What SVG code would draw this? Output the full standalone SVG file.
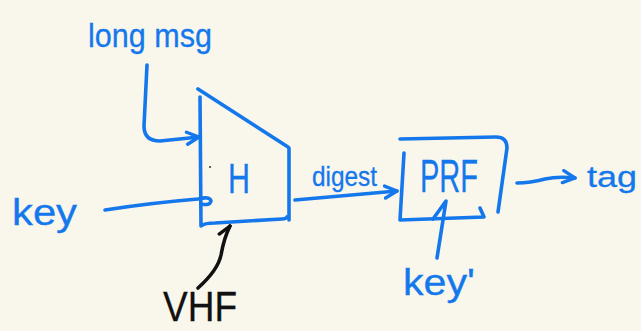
<svg xmlns="http://www.w3.org/2000/svg" width="641" height="331" viewBox="0 0 641 331">
  <style>
    .ink { fill: none; stroke: #1478EC; stroke-width: 3.6; stroke-linecap: round; stroke-linejoin: round; }
    .ink-dark { fill: none; stroke: #111111; stroke-width: 3.6; stroke-linecap: round; stroke-linejoin: round; }
    .lbl { font-family: "Liberation Sans", "DejaVu Sans", sans-serif; fill: #1478EC; stroke: #1478EC; stroke-width: 0.3; }
    .lbl-dark { font-family: "Liberation Sans", "DejaVu Sans", sans-serif; fill: #111111; stroke: #111111; stroke-width: 0.3; }
  </style>
  <defs>
    <marker id="head" viewBox="-14 -8 16 16" markerWidth="16" markerHeight="16" refX="0" refY="0" orient="auto" markerUnits="userSpaceOnUse">
      <path d="M-12,-6 L0,0 L-12,6" fill="none" stroke="#1478EC" stroke-width="3.4" stroke-linecap="round" stroke-linejoin="round"/>
    </marker>
    <marker id="head-dark" viewBox="-14 -8 16 16" markerWidth="16" markerHeight="16" refX="0" refY="0" orient="auto" markerUnits="userSpaceOnUse">
      <path d="M-12,-6 L0,0" fill="none" stroke="#111111" stroke-width="3.4" stroke-linecap="round"/>
    </marker>
  </defs>

  <rect width="641" height="331" fill="#F9F6EC"/>

  <!-- hash block: trapezoid -->
  <g id="hash">
    <path class="ink" d="M198,89 L288,147"/>
    <path class="ink" d="M200,97 L201,226 Q204,223 215,223 L282,219 Q286,219 287,217"/>
    <path class="ink" d="M289,148 L289,220"/>
    <circle cx="210" cy="167" r="1" fill="#333333"/>
    <text class="lbl" x="228" y="193" font-size="42" textLength="22" lengthAdjust="spacingAndGlyphs">H</text>
  </g>

  <!-- PRF block -->
  <g id="prf">
    <path class="ink" d="M400,139 L496,137 Q507,137 507,148 L498,212"/>
    <path class="ink" d="M404,153 L400,220 L484,217 L480,208"/>
    <text class="lbl" x="420" y="192" font-size="46" textLength="58" lengthAdjust="spacingAndGlyphs">PRF</text>
  </g>

  <g id="long-msg">
    <text class="lbl" x="88" y="47" font-size="34" textLength="124" lengthAdjust="spacingAndGlyphs">long msg</text>
  </g>
  <g id="key">
    <text class="lbl" x="12" y="225" font-size="36" textLength="65" lengthAdjust="spacingAndGlyphs">key</text>
  </g>
  <g id="key-prime">
    <text class="lbl" x="403" y="295" font-size="36" textLength="72" lengthAdjust="spacingAndGlyphs">key'</text>
  </g>
  <g id="tag">
    <text class="lbl" x="587" y="187" font-size="30" textLength="50" lengthAdjust="spacingAndGlyphs">tag</text>
  </g>
  <g id="vhf">
    <text class="lbl-dark" x="163" y="321" font-size="42" textLength="74" lengthAdjust="spacingAndGlyphs">VHF</text>
  </g>

  <g id="connectors">
    <!-- long msg into hash -->
    <path class="ink" d="M147,65 L144,126 Q144,141 160,141 L199,137" marker-end="url(#head)"/>
    <!-- key into hash -->
    <path class="ink" d="M105,210 Q150,203 198,199 Q210,196 211,201 Q210,206 201,204"/>
    <!-- digest -->
    <path class="ink" d="M295,200 L397,191" marker-end="url(#head)"/>
    <text class="lbl" x="312" y="186" font-size="28" textLength="65" lengthAdjust="spacingAndGlyphs">digest</text>
    <!-- key' into PRF -->
    <path class="ink" d="M437,258 L446,201 L433,219"/>
    <!-- PRF to tag -->
    <path class="ink" d="M517,183 Q530,183 545,179 Q558,176 575,178" marker-end="url(#head)"/>
    <!-- VHF pointer -->
    <path class="ink-dark" d="M198,288 Q218,270 221,255 Q224,238 230,226" marker-end="url(#head-dark)"/>
  </g>
</svg>
